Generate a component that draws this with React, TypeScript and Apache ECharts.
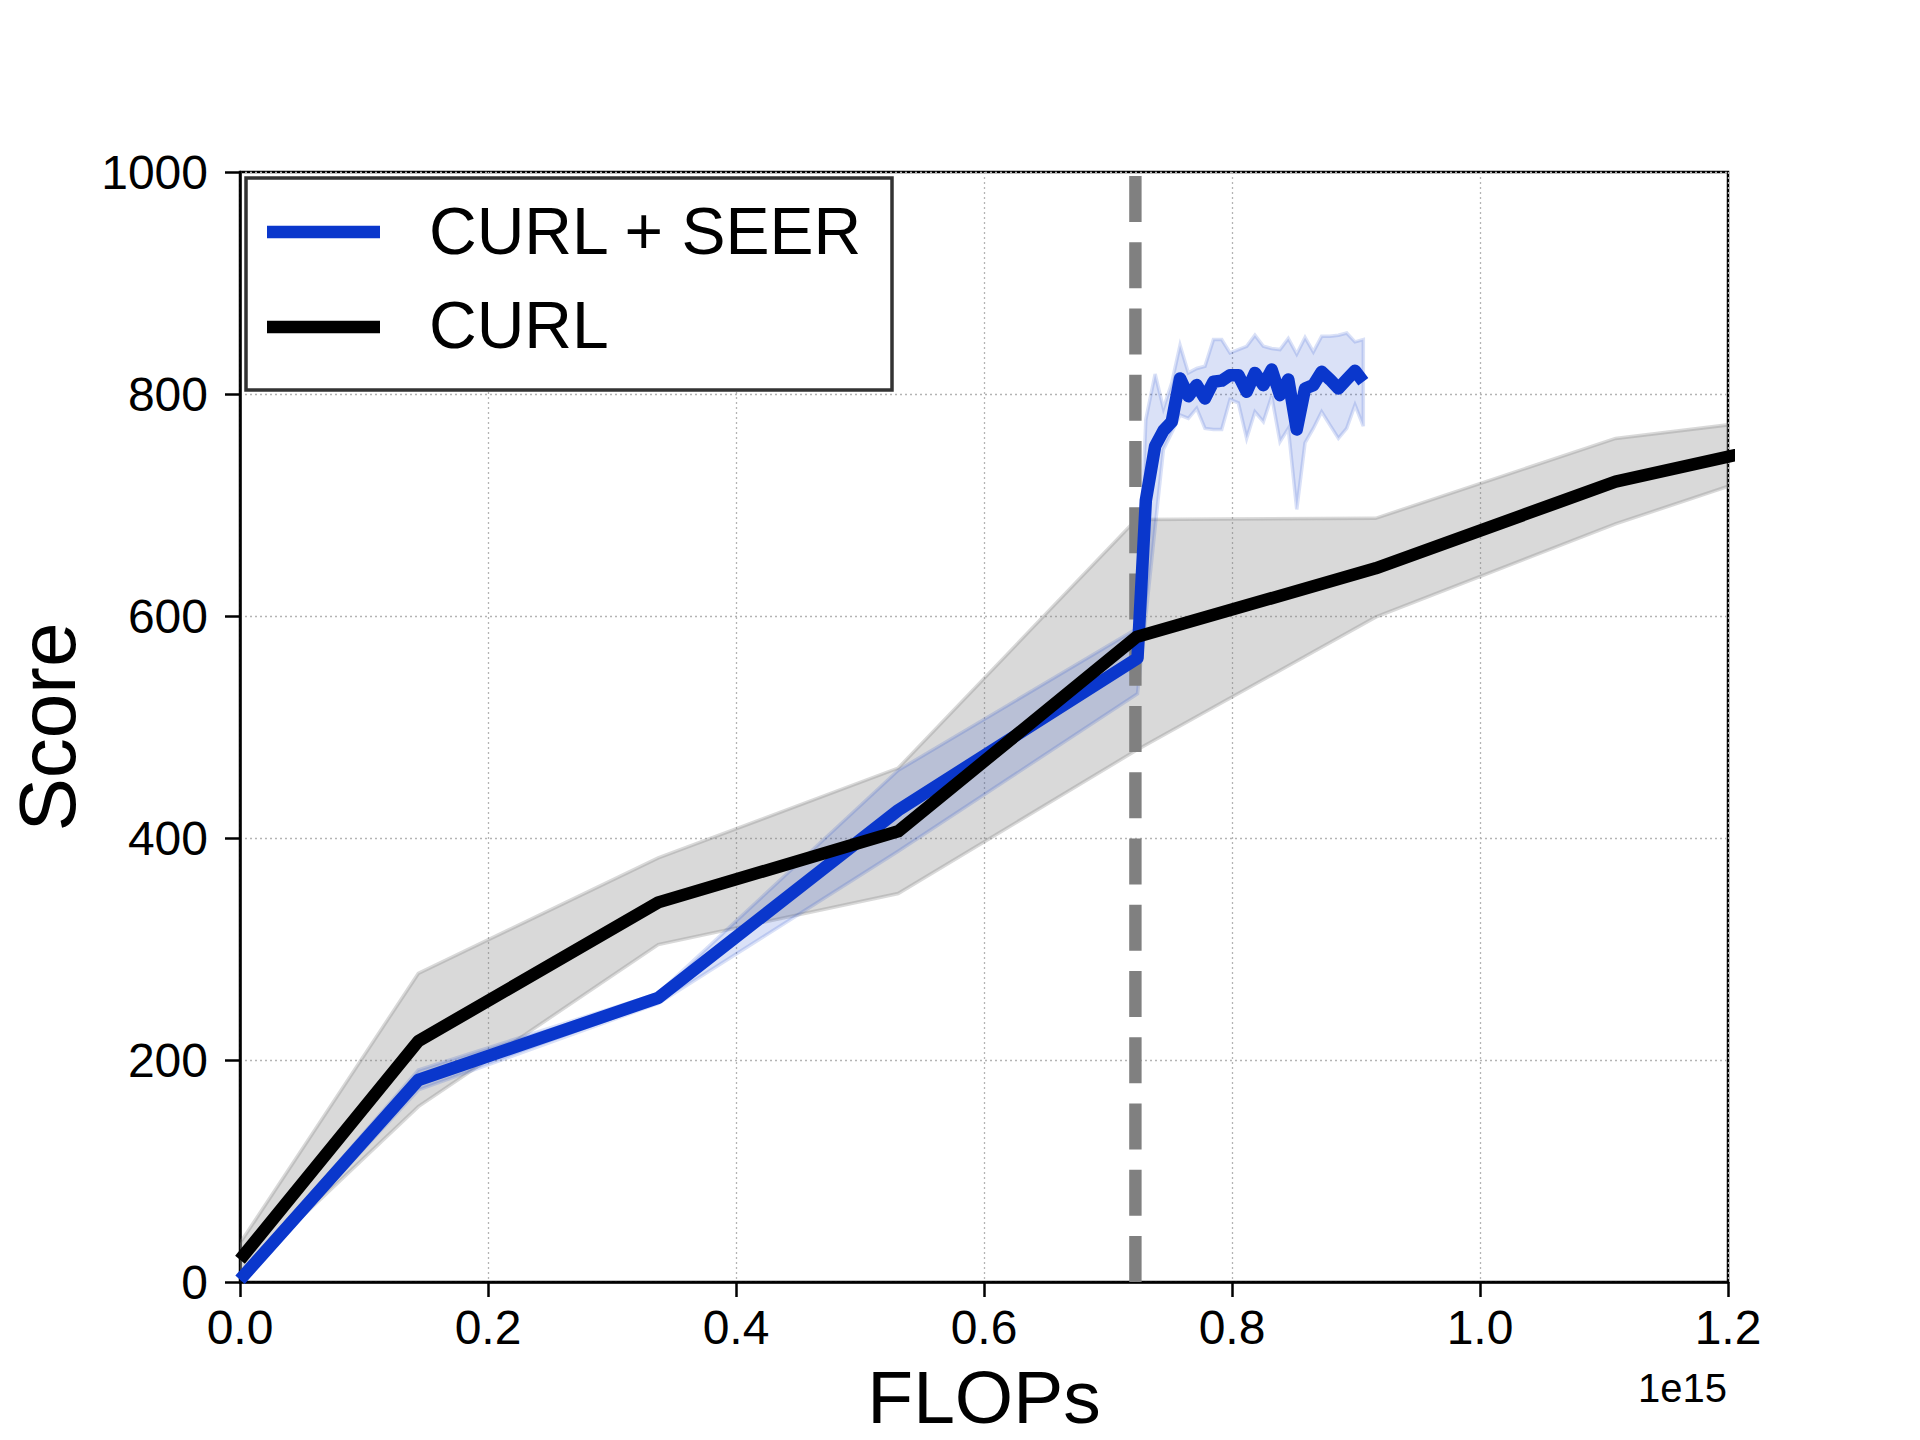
import React, { useEffect, useRef } from "react";
import * as echarts from "echarts";

// x values are in units of 1e15 FLOPs
const curlX = [0, 0.1438, 0.3373, 0.5308, 0.7228, 0.9158, 1.1093, 1.3028];
const curlMean = [20, 217, 342, 406, 581, 643, 721, 769];
const curlUpper = [35, 278, 382, 463, 687, 688, 760, 786];
const curlLower = [6, 158, 304, 350, 479, 599, 683, 755];

const seerX = [
  0, 0.1438, 0.3373, 0.5308, 0.7238, 0.7305, 0.738, 0.7447, 0.7514,
  0.7581, 0.7648, 0.7715, 0.7782, 0.785, 0.7917, 0.7984, 0.8051, 0.8118,
  0.8185, 0.8253, 0.832, 0.8387, 0.8454, 0.8522, 0.8589, 0.8656, 0.8723,
  0.879, 0.8858, 0.8925, 0.8992, 0.9059,
];
const seerMean = [
  2, 182, 256, 425, 562, 704, 753, 767, 775,
  814, 798, 808, 796, 811, 812, 817, 817, 802,
  819, 808, 822, 799, 813, 768, 805, 808, 820,
  813, 805, 813, 821, 811,
];
const seerUpper = [
  5, 191, 260, 461, 589, 777, 818, 787, 810,
  844, 819, 823, 825, 849, 849, 837, 840, 843,
  853, 843, 841, 840, 850, 836, 851, 838, 852,
  852, 853, 855, 847, 849,
];
const seerLower = [
  0, 173, 251, 388, 530, 600, 680, 750, 765,
  781, 778, 787, 769, 768, 768, 795, 792, 760,
  784, 775, 798, 757, 769, 696, 756, 769, 784,
  772, 760, 769, 790, 771,
];

const switchX = 0.7221;
const xTicks = [0, 0.2, 0.4, 0.6, 0.8, 1.0, 1.2];
const yTicks = [0, 200, 400, 600, 800, 1000];

const seriesNames = ["CURL + SEER", "CURL"];
const BLUE = "#0a37cc";
const FONT = "Liberation Sans, Arial, Helvetica, sans-serif";

function bandSeries(xs: number[], up: number[], lo: number[], fill: string, z: number) {
  return {
    type: "custom",
    clip: true,
    z,
    silent: true,
    data: [[0, 0]],
    renderItem: (_params: any, api: any) => {
      const pts: number[][] = [];
      for (let i = 0; i < xs.length; i++) pts.push(api.coord([xs[i], up[i]]));
      for (let i = xs.length - 1; i >= 0; i--) pts.push(api.coord([xs[i], lo[i]]));
      return {
        type: "polygon",
        shape: { points: pts },
        style: { fill, stroke: fill, lineWidth: 3.5 },
      };
    },
  };
}

export default function App() {
  const ref = useRef<HTMLDivElement>(null);
  useEffect(() => {
    document.body.style.margin = "0";
    if (!ref.current) return;
    const chart = echarts.init(ref.current, undefined, { renderer: "svg" });
    const lineStyleBase = { width: 12.5, cap: "butt", join: "round" };
    chart.setOption({
      animation: false,
      backgroundColor: "#fff",
      textStyle: { fontFamily: FONT },
      grid: {
        left: 240,
        right: 192,
        top: 172,
        bottom: 158,
        containLabel: false,
        outerBoundsMode: "none",
        show: true,
        borderColor: "#000",
        borderWidth: 2.5,
        backgroundColor: "transparent",
      },
      xAxis: {
        type: "value",
        min: xTicks[0],
        max: xTicks[xTicks.length - 1],
        interval: 0.2,
        name: "FLOPs",
        nameLocation: "middle",
        nameGap: 81,
        nameMoveOverlap: false,
        nameTextStyle: { fontSize: 75, lineHeight: 68, color: "#000", fontFamily: FONT },
        axisLine: { show: true, lineStyle: { color: "#000", width: 2.5 } },
        axisTick: { show: true, length: 15, lineStyle: { color: "#000", width: 2.5 } },
        axisLabel: {
          fontSize: 48,
          color: "#000",
          margin: 21,
          fontFamily: FONT,
          showMinLabel: true,
          showMaxLabel: true,
          formatter: (v: number) => v.toFixed(1),
        },
        splitLine: { show: true, lineStyle: { color: "#b4b4b4", width: 1.3, type: [2, 3] } },
      },
      yAxis: {
        type: "value",
        min: yTicks[0],
        max: yTicks[yTicks.length - 1],
        interval: 200,
        name: "Score",
        nameLocation: "middle",
        nameGap: 153,
        nameMoveOverlap: false,
        nameTextStyle: { fontSize: 80, color: "#000", fontFamily: FONT },
        axisLine: { show: true, lineStyle: { color: "#000", width: 2.5 } },
        axisTick: { show: true, length: 15, lineStyle: { color: "#000", width: 2.5 } },
        axisLabel: {
          fontSize: 48,
          color: "#000",
          margin: 32,
          fontFamily: FONT,
          formatter: (v: number) => String(Math.round(v)),
        },
        splitLine: { show: true, lineStyle: { color: "#b4b4b4", width: 1.3, type: [2, 3] } },
      },
      series: [
        bandSeries(curlX, curlUpper, curlLower, "rgba(128,128,128,0.3)", 1),
        bandSeries(seerX, seerUpper, seerLower, "rgba(10,55,204,0.15)", 2),
        {
          type: "line",
          name: "switch",
          z: 3,
          silent: true,
          symbol: "none",
          data: [
            [switchX, yTicks[0]],
            [switchX, yTicks[yTicks.length - 1]],
          ],
          lineStyle: { color: "#808080", width: 12.4, type: [46, 20.25], cap: "butt" },
        },
        {
          type: "line",
          name: seriesNames[0],
          z: 4,
          symbol: "none",
          data: seerX.map((x, i) => [x, seerMean[i]]),
          lineStyle: { ...lineStyleBase, color: BLUE },
        },
        {
          type: "line",
          name: seriesNames[1],
          z: 5,
          symbol: "none",
          data: curlX.map((x, i) => [x, curlMean[i]]),
          lineStyle: { ...lineStyleBase, color: "#000" },
        },
      ],
      graphic: [
        {
          type: "rect",
          z: 100,
          shape: { x: 246, y: 178, width: 646, height: 212 },
          style: { fill: "#fff", stroke: "#333", lineWidth: 3.5 },
        },
        {
          type: "line",
          z: 101,
          shape: { x1: 267, y1: 232, x2: 380, y2: 232 },
          style: { stroke: BLUE, lineWidth: 12.5 },
        },
        {
          type: "text",
          z: 101,
          x: 429,
          y: 231,
          style: {
            text: seriesNames[0],
            fontSize: 66,
            fontFamily: FONT,
            fill: "#000",
            verticalAlign: "middle",
            align: "left",
          },
        },
        {
          type: "line",
          z: 101,
          shape: { x1: 267, y1: 327, x2: 380, y2: 327 },
          style: { stroke: "#000", lineWidth: 12.5 },
        },
        {
          type: "text",
          z: 101,
          x: 429,
          y: 325,
          style: {
            text: seriesNames[1],
            fontSize: 66,
            fontFamily: FONT,
            fill: "#000",
            verticalAlign: "middle",
            align: "left",
          },
        },
        {
          type: "text",
          z: 101,
          x: 1727,
          y: 1388,
          style: {
            text: "1e15",
            fontSize: 40,
            fontFamily: FONT,
            fill: "#000",
            verticalAlign: "middle",
            align: "right",
          },
        },
      ],
    });
    return () => chart.dispose();
  }, []);
  return <div ref={ref} style={{ width: 1920, height: 1440 }} />;
}
